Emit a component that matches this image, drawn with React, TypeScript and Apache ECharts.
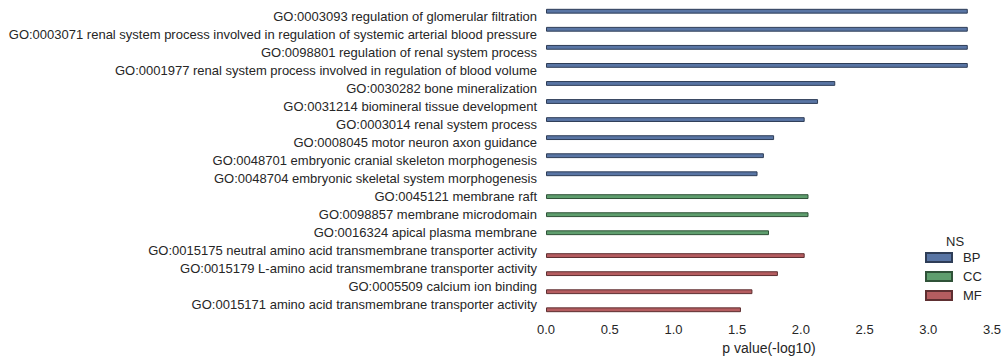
import React, { useEffect, useRef } from "react";
import * as echarts from "echarts";

const categories = [
  "GO:0003093 regulation of glomerular filtration",
  "GO:0003071 renal system process involved in regulation of systemic arterial blood pressure",
  "GO:0098801 regulation of renal system process",
  "GO:0001977 renal system process involved in regulation of blood volume",
  "GO:0030282 bone mineralization",
  "GO:0031214 biomineral tissue development",
  "GO:0003014 renal system process",
  "GO:0008045 motor neuron axon guidance",
  "GO:0048701 embryonic cranial skeleton morphogenesis",
  "GO:0048704 embryonic skeletal system morphogenesis",
  "GO:0045121 membrane raft",
  "GO:0098857 membrane microdomain",
  "GO:0016324 apical plasma membrane",
  "GO:0015175 neutral amino acid transmembrane transporter activity",
  "GO:0015179 L-amino acid transmembrane transporter activity",
  "GO:0005509 calcium ion binding",
  "GO:0015171 amino acid transmembrane transporter activity",
];

const bpValues = [3.31, 3.31, 3.31, 3.31, 2.27, 2.135, 2.03, 1.79, 1.71, 1.66];
const ccValues = [2.06, 2.06, 1.75];
const mfValues = [2.03, 1.82, 1.62, 1.53];

const groups = ["BP", "CC", "MF"];
const xTicks = { min: 0, max: 3.5, interval: 0.5 };

const colors = { BP: "#5975a4", CC: "#5f9e6e", MF: "#b55d60" };
const borders = { BP: "#2e3d57", CC: "#2f5238", MF: "#5e2f31" };

function buildData(values: number[], startIdx: number) {
  return categories.map((_, i) => {
    const j = i - startIdx;
    return j >= 0 && j < values.length ? values[j] : "-";
  });
}

export default function App() {
  const ref = useRef<HTMLDivElement>(null);
  useEffect(() => {
    if (!ref.current) return;
    const chart = echarts.init(ref.current, undefined, { renderer: "svg" });
    const font = "Liberation Sans, Arial, sans-serif";
    const txt = "#262626";
    const seriesData: Record<string, (number | string)[]> = {
      BP: buildData(bpValues, 0),
      CC: buildData(ccValues, bpValues.length),
      MF: buildData(mfValues, bpValues.length + ccValues.length),
    };
    chart.setOption({
      animation: false,
      textStyle: { fontFamily: font },
      grid: { left: 546, right: 16, top: 7, bottom: 48, containLabel: false },
      xAxis: {
        type: "value",
        min: xTicks.min,
        max: xTicks.max,
        interval: xTicks.interval,
        axisLine: { show: false },
        axisTick: { show: false },
        splitLine: { show: false },
        axisLabel: {
          color: txt,
          fontSize: 13,
          fontFamily: font,
          margin: 9,
          formatter: (v: number) => v.toFixed(1),
        },
        name: "p value(-log10)",
        nameLocation: "middle",
        nameGap: 27,
        nameTextStyle: { color: txt, fontSize: 14, fontFamily: font },
      },
      yAxis: {
        type: "category",
        data: categories,
        inverse: true,
        axisLine: { show: false },
        axisTick: { show: false },
        splitLine: { show: false },
        axisLabel: { color: txt, fontSize: 13, fontFamily: font, margin: 9 },
      },
      legend: {
        data: groups,
        orient: "vertical",
        left: 925,
        top: 251,
        padding: 0,
        itemWidth: 26,
        itemHeight: 9,
        itemGap: 6,
        icon: "rect",
        textStyle: { color: txt, fontSize: 13, fontFamily: font, padding: [0, 0, 0, 6] },
      },
      graphic: [
        {
          type: "text",
          left: 946,
          top: 235,
          style: { text: "NS", fill: txt, font: `13px ${font}` },
        },
      ],
      series: groups.map((g) => ({
        name: g,
        type: "bar",
        data: seriesData[g],
        barWidth: "26.6%",
        barGap: "0%",
        itemStyle: {
          color: (colors as any)[g],
          borderColor: (borders as any)[g],
          borderWidth: 1,
        },
      })),
    });
    return () => chart.dispose();
  }, []);
  return (
    <div
      ref={ref}
      style={{ position: "absolute", left: 0, top: 0, width: 1008, height: 362, background: "#fff" }}
    />
  );
}
